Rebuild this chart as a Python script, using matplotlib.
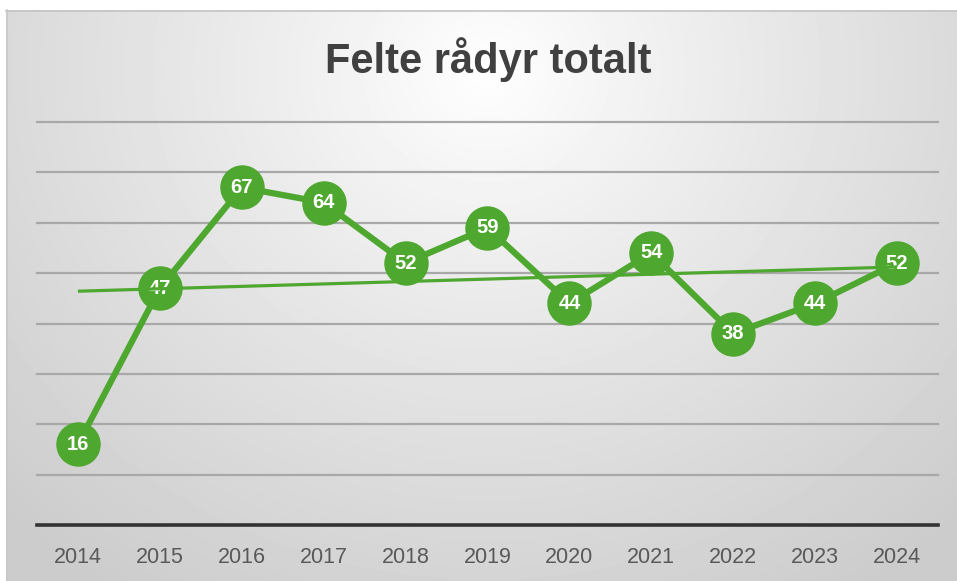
import numpy as np
import matplotlib
matplotlib.use("Agg")
import matplotlib.pyplot as plt

years = ["2014", "2015", "2016", "2017", "2018", "2019", "2020", "2021", "2022", "2023", "2024"]
felte = [16, 47, 67, 64, 52, 59, 44, 54, 38, 44, 52]
title = "Felte rådyr totalt"

green = "#4ea72e"
plt.rcParams["font.family"] = ["Liberation Sans", "DejaVu Sans"]

W, H = 957, 581
fig = plt.figure(figsize=(W / 100, H / 100), dpi=100, facecolor="white")

# background panel with radial gradient
bg = fig.add_axes([6 / W, 0, 1 - 6 / W, (H - 10) / H])
yy, xx = np.mgrid[0:H - 10, 0:W - 6]
d = np.hypot(xx - 480, (yy - 60) * 1.1)
shade = 1 - 0.2 * np.clip(d / 680, 0, 1) ** 0.9
bg.imshow(shade, cmap="gray", vmin=0, vmax=1, aspect="auto", interpolation="bilinear")
bg.set_axis_off()
fig.add_artist(plt.Line2D([6 / W, 1], [(H - 10.5) / H] * 2, color="#c4c4c4", lw=1.2))
fig.add_artist(plt.Line2D([6.5 / W] * 2, [0, (H - 10) / H], color="#c8c8c8", lw=1.2))

ax = fig.add_axes([37 / W, (H - 525) / H, 901 / W, 403 / H])
ax.set_facecolor("none")
x = np.arange(len(years))
ax.set_xlim(-0.5, len(years) - 0.5)
ax.set_ylim(0, 80)
ax.set_yticks(np.arange(10, 81, 10))
ax.yaxis.grid(True, color="#a8a8a8", lw=1.6)
for gl in ax.get_ygridlines():
    gl.set_clip_on(False)
ax.set_axisbelow(True)
ax.tick_params(axis="y", left=False, labelleft=False)
ax.set_xticks(x)
ax.set_xticklabels(years, fontsize=15.5, color="#595959")
ax.tick_params(axis="x", length=0, pad=15.5)
for s in ["top", "right", "left"]:
    ax.spines[s].set_visible(False)
ax.spines["bottom"].set_color("#333333")
ax.spines["bottom"].set_linewidth(2.6)

ax.plot(x, felte, color=green, lw=4.5, marker="o", markersize=31,
        markerfacecolor=green, markeredgecolor=green, zorder=3)
for xi, v in zip(x, felte):
    ax.text(xi, v, str(v), color="white", fontsize=14.5, fontweight="bold",
            ha="center", va="center", zorder=4)

k, b = np.polyfit(x, felte, 1)
ax.plot(x, k * x + b, color=green, lw=2.3, zorder=5, solid_capstyle="butt")

fig.text(488 / W, 1 - 60 / H, title, fontsize=30, fontweight="bold",
         color="#404040", ha="center", va="center")

fig.savefig("out.png", dpi=100, facecolor="white")
